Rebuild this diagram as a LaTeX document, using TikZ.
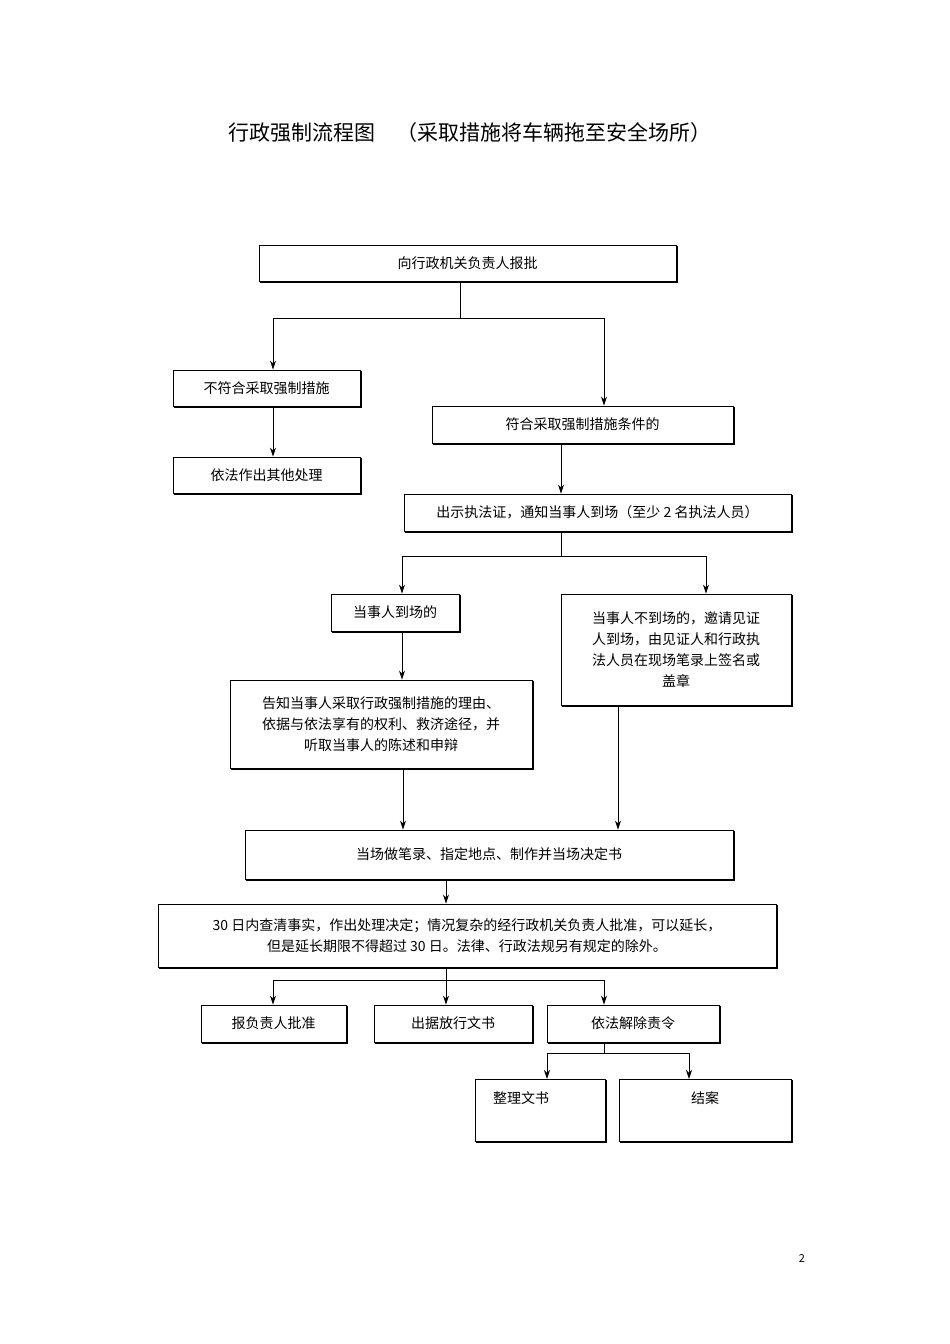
\documentclass[tikz,border=0pt]{standalone}
\usepackage{fontspec}
\setmainfont{Noto Sans CJK SC}
\usetikzlibrary{arrows.meta}
\begin{document}
\begin{tikzpicture}[x=1pt,y=-1pt,
 bx/.style={draw,line width=0.9pt,inner sep=0pt,font=\fontsize{14pt}{21pt}\selectfont,align=center},
 arr/.style={line width=0.9pt,-{Stealth[length=9pt,width=6pt]}},
 ln/.style={line width=0.9pt}]
\useasboundingbox (0,0) rectangle (950,1344);
\node (title) at (470,133) {\fontsize{21pt}{24pt}\selectfont 行政强制流程图\hspace{1em}（采取措施将车辆拖至安全场所）};
\newcommand{\bx}[6]{\node[bx,minimum width={#4-#2},minimum height={#5-#3}] (#1) at ({(#2+#4)/2},{(#3+#5)/2}) {#6};
 \draw[line width=1.6pt] (#2+1,#5+0.8) -- (#4+0.8,#5+0.8) -- (#4+0.8,#3+1);}
\bx{b1}{259}{245}{676}{281}{向行政机关负责人报批}
\bx{b2}{173}{370}{360}{406}{不符合采取强制措施}
\bx{b3}{432}{406}{733}{443}{符合采取强制措施条件的}
\bx{b4}{173}{457}{360}{493}{依法作出其他处理}
\bx{b5}{404}{494}{791}{531}{出示执法证，通知当事人到场（至少 2 名执法人员）}
\bx{b6}{331}{594}{459}{631}{当事人到场的}
\bx{b7}{561}{594}{791}{705}{当事人不到场的，邀请见证\\人到场，由见证人和行政执\\法人员在现场笔录上签名或\\盖章}
\bx{b8}{230}{680}{532}{768}{告知当事人采取行政强制措施的理由、\\依据与依法享有的权利、救济途径，并\\听取当事人的陈述和申辩}
\bx{b9}{245}{830}{733}{879}{当场做笔录、指定地点、制作并当场决定书}
\bx{b10}{158}{904}{776}{967}{30 日内查清事实，作出处理决定；情况复杂的经行政机关负责人批准，可以延长，\\但是延长期限不得超过 30 日。法律、行政法规另有规定的除外。}
\bx{b11}{201}{1005}{346}{1042}{报负责人批准}
\bx{b12}{374}{1005}{532}{1042}{出据放行文书}
\bx{b13}{547}{1005}{719}{1042}{依法解除责令}
\node[bx,anchor=north,minimum width=130,minimum height=62,text depth=0pt] (b14) at (540,1079) {};
\draw[line width=1.6pt] (476,1141.8) -- (605.8,1141.8) -- (605.8,1080);
\node[font=\fontsize{14pt}{21pt}\selectfont] at (521,1098) {整理文书};
\node[bx,anchor=north,minimum width=172,minimum height=62] (b15) at (705,1079) {};
\draw[line width=1.6pt] (620,1141.8) -- (791.8,1141.8) -- (791.8,1080);
\node[font=\fontsize{14pt}{21pt}\selectfont] at (705,1098) {结案};
\node[font=\fontsize{11pt}{13pt}\selectfont] (pg) at (802,1258) {2};
% connectors
\coordinate (j1) at (460,318);
\draw[ln] (b1.south -| j1) -- (j1);
\draw[arr] (273,318) -- (273,318 |- b2.north);
\draw[ln] (273,318) -- (604,318);
\draw[arr] (604,318) -- (604,318 |- b3.north);
\draw[arr] (273,406 |- b2.south) -- (273,406 |- b4.north);
\draw[arr] (561,443 |- b3.south) -- (561,443 |- b5.north);
\coordinate (j2) at (561,556);
\draw[ln] (561,531 |- b5.south) -- (j2);
\draw[ln] (402,556) -- (706,556);
\draw[arr] (402,556) -- (402,556 |- b6.north);
\draw[arr] (706,556) -- (706,556 |- b7.north);
\draw[arr] (402,631 |- b6.south) -- (402,631 |- b8.north);
\draw[arr] (403,768 |- b8.south) -- (403,768 |- b9.north);
\draw[arr] (618,705 |- b7.south) -- (618,705 |- b9.north);
\draw[arr] (446,879 |- b9.south) -- (446,879 |- b10.north);
\coordinate (j3) at (446,980);
\draw[ln] (446,967 |- b10.south) -- (j3);
\draw[ln] (273,980) -- (604,980);
\draw[arr] (273,980) -- (273,980 |- b11.north);
\draw[arr] (446,980) -- (446,980 |- b12.north);
\draw[arr] (604,980) -- (604,980 |- b13.north);
\coordinate (j4) at (604,1053);
\draw[ln] (604,1042 |- b13.south) -- (j4);
\draw[ln] (547,1053) -- (689,1053);
\draw[arr] (547,1053) -- (547,1053 |- b14.north);
\draw[arr] (689,1053) -- (689,1053 |- b15.north);
\end{tikzpicture}
\end{document}
